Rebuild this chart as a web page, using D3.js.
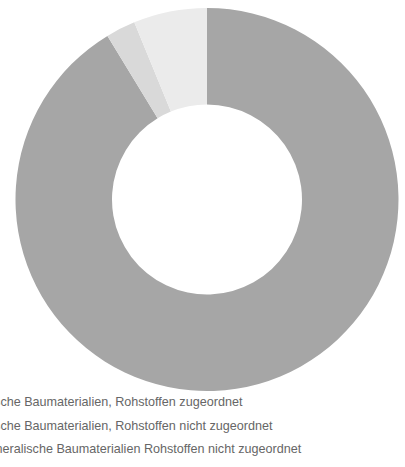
<!DOCTYPE html>
<html>
<head>
<meta charset="utf-8">
<script src="https://cdn.jsdelivr.net/npm/d3@7"></script>
<style>
  html, body { margin: 0; padding: 0; background: #ffffff; overflow: hidden; }
  svg { display: block; }
</style>
</head>
<body>
<svg id="chart" width="405" height="467"></svg>
<script>
// Anteile der Baumaterialien (in %)
const categories = [
  "Mineralische Baumaterialien, Rohstoffen zugeordnet",
  "Mineralische Baumaterialien, Rohstoffen nicht zugeordnet",
  "Nicht mineralische Baumaterialien Rohstoffen nicht zugeordnet"
];
const values = [91.3, 2.5, 6.2];
const colors = ["#a6a6a6", "#d9d9d9", "#ebebeb"];

const width = 405, height = 467;
const cx = 207, cy = 199.5;
const outerR = 191.5, innerR = 95;

const svg = d3.select("#chart");

const pie = d3.pie().sort(null).value(d => d.value);
const arc = d3.arc().innerRadius(innerR).outerRadius(outerR);

const data = categories.map((c, i) => ({ name: c, value: values[i], color: colors[i] }));

svg.append("g")
  .attr("transform", `translate(${cx},${cy})`)
  .selectAll("path")
  .data(pie(data))
  .join("path")
  .attr("d", arc)
  .attr("fill", d => d.data.color);

// Legende (links angeschnitten)
const legendX = -50;
const legendY0 = 406;
const legendStep = 23.5;

svg.append("g")
  .selectAll("text")
  .data(data)
  .join("text")
  .attr("x", legendX)
  .attr("y", (d, i) => legendY0 + i * legendStep)
  .attr("font-family", "Liberation Sans, Arial, sans-serif")
  .attr("font-size", "12.6px")
  .attr("fill", "#666666")
  .text(d => d.name);
</script>
</body>
</html>
